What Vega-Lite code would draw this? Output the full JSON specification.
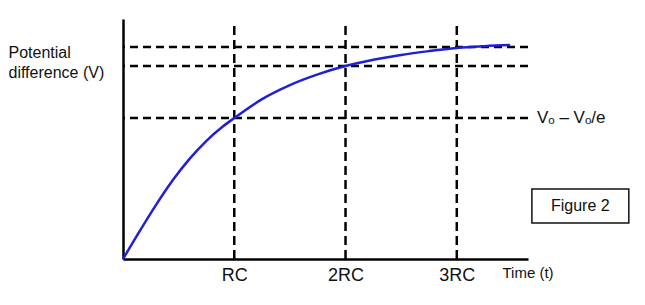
{
  "$schema": "https://vega.github.io/schema/vega-lite/v6.json",
  "width": 405,
  "height": 240,
  "autosize": "none",
  "padding": {"left": 123, "top": 19, "right": 117, "bottom": 46},
  "background": "white",
  "config": {
    "view": {"stroke": null},
    "font": "Liberation Sans",
    "text": {"font": "Liberation Sans"}
  },
  "datasets": {
    "curve": [
      {"t": 0, "v": 0},
      {"t": 0.15, "v": 0.125},
      {"t": 0.3, "v": 0.245},
      {"t": 0.45, "v": 0.355},
      {"t": 0.6, "v": 0.45},
      {"t": 0.75, "v": 0.53},
      {"t": 0.9, "v": 0.595},
      {"t": 1.0, "v": 0.632},
      {"t": 1.25, "v": 0.717},
      {"t": 1.5, "v": 0.78},
      {"t": 1.75, "v": 0.828},
      {"t": 2.0, "v": 0.865},
      {"t": 2.25, "v": 0.893},
      {"t": 2.5, "v": 0.915},
      {"t": 2.75, "v": 0.932},
      {"t": 3.0, "v": 0.946},
      {"t": 3.25, "v": 0.954},
      {"t": 3.48, "v": 0.959}
    ],
    "vlines": [{"t": 1}, {"t": 2}, {"t": 3}],
    "hlines": [{"v": 0.632}, {"v": 0.865}, {"v": 0.95}],
    "label": [{"t": 3.72, "v": 0.632, "text": "Vₒ – Vₒ/e"}],
    "fig": [{"text": "Figure 2"}]
  },
  "layer": [
    {
      "data": {"name": "vlines"},
      "mark": {"type": "rule", "color": "#000", "strokeWidth": 2.5, "strokeDash": [9, 5]},
      "encoding": {
        "x": {
          "field": "t", "type": "quantitative",
          "scale": {"domain": [0, 3.64], "nice": false, "zero": false},
          "axis": {
            "values": [1, 2, 3],
            "labelExpr": "datum.value == 1 ? 'RC' : datum.value + 'RC'",
            "ticks": false,
            "grid": false,
            "domainColor": "#000",
            "domainWidth": 2.5,
            "labelFontSize": 18,
            "labelColor": "#111",
            "labelPadding": 7,
            "labelDx": 4,
            "labelFont": "Liberation Sans",
            "title": "Time (t)",
            "titleFont": "Liberation Sans",
            "titleFontSize": 15,
            "titleFontWeight": "normal",
            "titleColor": "#111",
            "titleAlign": "left",
            "titleBaseline": "alphabetic",
            "titleX": 379,
            "titleY": 18
          }
        },
        "y": {
          "datum": 0, "type": "quantitative",
          "scale": {"domain": [0, 1.076], "nice": false},
          "axis": {
            "labels": false,
            "ticks": false,
            "grid": false,
            "domainColor": "#000",
            "domainWidth": 2.5,
            "title": ["Potential", "difference (V)"],
            "titleFont": "Liberation Sans",
            "titleFontSize": 16,
            "titleFontWeight": "normal",
            "titleColor": "#111",
            "titleAngle": 0,
            "titleAlign": "left",
            "titleBaseline": "alphabetic",
            "titleLineHeight": 20,
            "titleX": -115,
            "titleY": 38
          }
        },
        "y2": {"datum": 1.045}
      }
    },
    {
      "data": {"name": "hlines"},
      "mark": {"type": "rule", "color": "#000", "strokeWidth": 2.5, "strokeDash": [8, 5]},
      "encoding": {
        "y": {"field": "v", "type": "quantitative"}
      }
    },
    {
      "data": {"name": "curve"},
      "mark": {"type": "line", "color": "#1f1fd8", "strokeWidth": 2.5, "interpolate": "monotone"},
      "encoding": {
        "x": {"field": "t", "type": "quantitative"},
        "y": {"field": "v", "type": "quantitative"}
      }
    },
    {
      "data": {"name": "label"},
      "mark": {"type": "text", "align": "left", "baseline": "middle", "fontSize": 17, "color": "#111", "clip": false},
      "encoding": {
        "x": {"field": "t", "type": "quantitative"},
        "y": {"field": "v", "type": "quantitative"},
        "text": {"field": "text"}
      }
    },
    {
      "data": {"name": "fig"},
      "mark": {"type": "rect", "fill": "white", "stroke": "#111", "strokeWidth": 1.5, "clip": false},
      "encoding": {
        "x": {"datum": 3.675, "type": "quantitative"},
        "x2": {"datum": 4.546},
        "y": {"datum": 0.161, "type": "quantitative"},
        "y2": {"datum": 0.314}
      }
    },
    {
      "data": {"name": "fig"},
      "mark": {"type": "text", "align": "center", "baseline": "middle", "fontSize": 16, "color": "#111", "clip": false},
      "encoding": {
        "x": {"datum": 4.11, "type": "quantitative"},
        "y": {"datum": 0.2375, "type": "quantitative"},
        "text": {"field": "text"}
      }
    }
  ]
}
